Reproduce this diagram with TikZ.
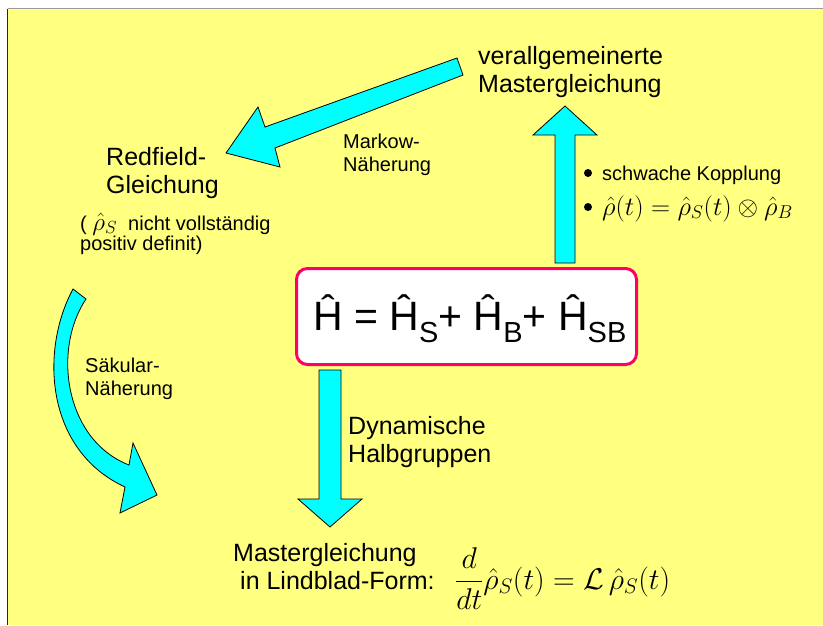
\RequirePackage{fix-cm}
\documentclass[tikz,border=0pt]{standalone}
\usepackage{amsmath}
\usepackage[no-math]{fontspec}
\setmainfont{Liberation Sans}
\definecolor{bgyellow}{RGB}{255,255,128}
\definecolor{arrcyan}{RGB}{0,255,255}
\definecolor{boxred}{RGB}{255,0,102}
\tikzset{
  fatarrow/.style={fill=arrcyan, draw=black, line width=0.8pt, line join=miter},
  lbl/.style={anchor=base west, inner sep=0pt, align=left},
  big/.style={font=\fontsize{25}{28}\selectfont},
  small/.style={font=\fontsize{20}{23}\selectfont},
  hbox/.style={draw=boxred, line width=3pt, fill=white, rounded corners=11pt,
    minimum width=340pt, minimum height=96pt, inner sep=0pt},
}
\newcommand{\subtxt}[1]{\raisebox{-12pt}{\fontsize{29}{30}\selectfont #1}}
\begin{document}
\begin{tikzpicture}[x=1pt,y=-1pt]
  \useasboundingbox (0,0) rectangle (823,625);
  \fill[white] (0,0) rectangle (823,625);
  \fill[bgyellow] (7.5,8.5) rectangle (823,625);
  \draw[black!85, line width=1pt] (7.5,625) -- (7.5,8.5);
  \draw[black!40, line width=1pt] (7.5,8.5) -- (823,8.5);

  % central box
  \node[hbox] (H) at (466.5,316.5) {};
  \node[lbl, font=\fontsize{41}{45}\selectfont] (Htext) at (313,330)
    {Ĥ = Ĥ\subtxt{S}+ Ĥ\subtxt{B}+ Ĥ\subtxt{SB}};

  % up arrow
  \draw[fatarrow] (555,263) -- (555,135) -- (533,135) -- (565,106) -- (597,135)
    -- (575,135) -- (575,263) -- cycle;
  % down arrow
  \draw[fatarrow] (319,370) -- (341,370) -- (341,499) -- (362,499) -- (330,527)
    -- (298,499) -- (319,499) -- cycle;
  % diagonal arrow
  \draw[fatarrow] (457,58) -- (463,75) -- (275,148) -- (280,167) -- (226,153)
    -- (258,107) -- (265,127) -- cycle;
  % curved arrow
  \draw[fatarrow] (73,289) .. controls (40,350) and (45,450) .. (125,487)
    -- (120,513) -- (157,495) -- (133,443) -- (129,465)
    .. controls (65,440) and (52,350) .. (86,299) -- cycle;

  % texts (multi-line nodes: base anchor is on the last line)
  \node[lbl,big] (vmg) at (478,92) {verallgemeinerte\\Mastergleichung};
  \node[lbl,small] (markow) at (343,171) {Markow-\\Näherung};
  \node[lbl,big] (redf) at (106,193) {Redfield-\\Gleichung};
  \node[lbl,small] (paren1) at (80,230)
    {( {\fontsize{25}{25}\selectfont$\hat\rho_S$}\ \ nicht vollständig};
  \node[lbl,small] (paren2) at (80,250) {positiv definit)};
  \node[lbl,small] (saek) at (85,395) {Säkular-\\Näherung};
  \node[lbl,big] (dyn) at (348,462) {Dynamische\\Halbgruppen};
  \fill (588,173) circle (4pt);
  \fill (588,207) circle (4pt);
  \node[lbl,small] (b1) at (602,180) {schwache Kopplung};
  \node[lbl, font=\fontsize{26.5}{30}\selectfont] (b2) at (602,215)
    {$\hat\rho(t)=\hat\rho_S(t)\otimes\hat\rho_B$};
  \node[lbl,big] (mg) at (233,561) {Mastergleichung};
  \node[lbl,big] (lf) at (240,589) {in Lindblad-Form:};
  \node[lbl, font=\fontsize{30}{34}\selectfont] (eq) at (455,589)
    {$\displaystyle\frac{d}{dt}\hat\rho_S(t)=\mathcal{L}\,\hat\rho_S(t)$};
\end{tikzpicture}
\end{document}
